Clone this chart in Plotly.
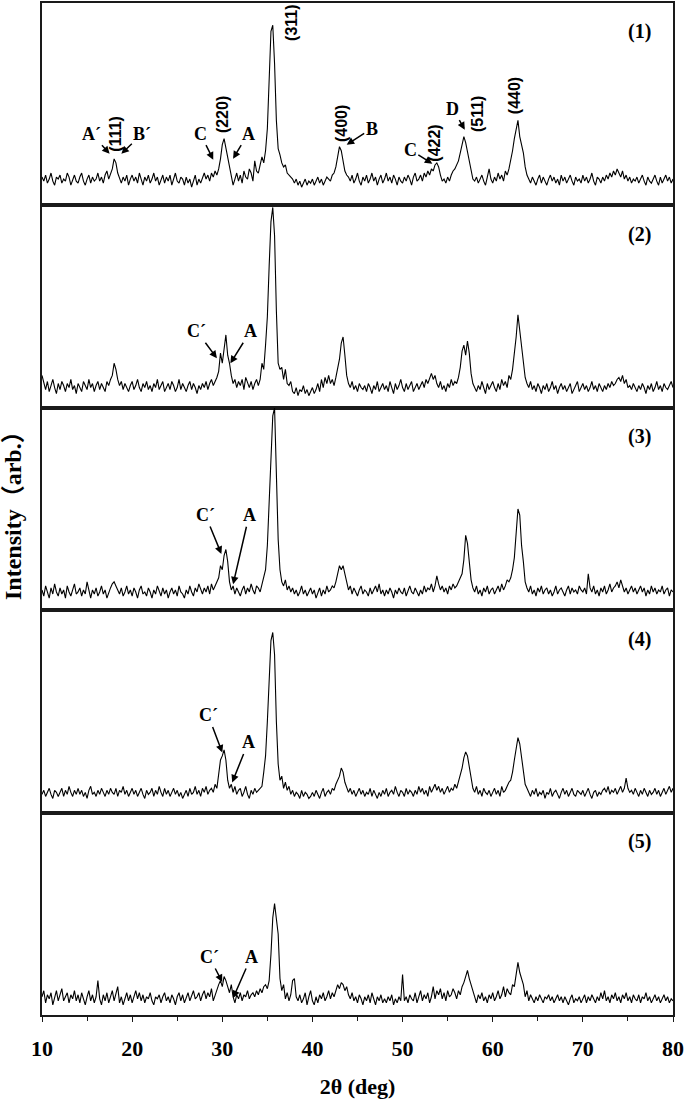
import numpy as np
import plotly.graph_objects as go
from plotly.subplots import make_subplots

# 2-theta grid (deg), 0.2 deg step
two_theta = np.round(np.arange(10, 80.0001, 0.2), 1)

# Intensities (arb., % of panel height)
p1 = [14,12,15,11,13,16,12,10,14,13,
      15,11,13,12,16,14,10,13,15,12,
      11,14,16,12,10,13,15,11,14,12,
      13,16,12,14,11,15,17,13,16,18,
      23,21,16,13,11,14,12,15,10,13,
      15,12,14,11,16,13,10,14,12,15,
      11,13,16,12,14,10,13,15,11,14,
      12,15,10,13,16,12,11,14,13,10,
      14,11,13,9,12,15,10,13,11,14,
      16,13,15,12,16,14,17,15,18,23,
      30,33,28,24,18,14,10,13,16,12,
      15,11,17,14,13,18,16,12,22,17,
      16,20,24,21,27,38,62,86,89,70,
      42,28,25,21,19,20,16,15,14,13,
      11,13,10,12,9,11,13,10,12,11,
      13,10,12,14,11,13,10,12,14,13,
      12,15,16,19,24,29,27,22,17,15,
      14,12,15,11,13,16,12,10,14,12,
      15,11,13,16,12,14,10,13,15,11,
      13,16,12,14,11,15,13,10,14,12,
      11,14,12,15,13,10,14,16,12,13,
      15,12,16,14,17,15,18,17,20,21,
      19,15,12,13,11,14,12,15,17,18,
      20,22,26,30,34,31,26,22,16,13,
      12,14,11,13,15,12,10,14,18,13,
      11,14,12,16,13,15,12,17,15,18,
      22,27,33,38,42,34,30,26,19,15,
      13,11,14,12,10,13,15,11,14,12,
      10,13,15,12,14,11,13,10,15,12,
      14,11,13,15,12,10,14,12,13,11,
      15,12,14,11,13,16,12,10,14,13,
      11,14,12,15,13,16,14,17,15,18,
      16,14,17,13,15,12,14,11,13,12,
      14,11,13,15,12,10,14,12,11,13,
      15,12,10,14,11,13,15,12,14,11,
      13]

p2 = [16,12,9,13,8,11,14,10,7,12,
      9,13,11,8,12,10,14,9,11,7,
      12,10,8,13,11,9,14,10,12,8,
      11,13,9,12,10,8,13,11,14,16,
      22,19,14,11,13,9,12,10,8,11,
      13,9,11,14,10,8,12,10,13,9,
      11,8,12,10,14,9,11,13,8,10,
      12,9,13,11,8,10,14,9,12,10,
      8,11,13,9,12,10,7,11,9,12,
      10,13,9,12,14,11,13,15,18,27,
      22,30,36,26,22,16,12,14,10,13,
      11,14,9,15,12,10,13,9,12,14,
      11,14,22,19,31,45,70,92,99,85,
      48,22,19,20,14,19,12,11,13,8,
      7,10,6,9,8,11,7,9,6,8,
      10,7,9,12,8,14,10,15,12,16,
      12,14,11,15,19,24,32,35,26,16,
      12,10,13,9,11,8,12,10,9,11,
      8,12,10,7,11,9,13,8,10,12,
      9,11,8,13,10,7,12,9,11,14,
      10,8,12,9,11,13,8,10,12,9,
      11,13,10,14,12,15,17,14,16,12,
      10,13,9,11,8,12,10,14,11,13,
      12,15,20,28,31,26,33,27,17,12,
      10,8,11,9,13,10,7,12,9,11,
      13,10,8,12,9,14,11,13,10,16,
      14,19,26,35,46,38,30,22,15,12,
      10,13,9,11,8,12,10,7,11,9,
      12,8,10,13,9,11,7,10,12,9,
      11,8,10,12,7,9,11,13,8,10,
      12,9,11,8,10,13,9,11,8,12,
      10,8,11,9,12,10,13,11,12,14,
      15,13,16,12,14,10,11,9,12,10,
      8,11,9,12,10,7,11,9,12,8,
      10,13,9,11,8,12,10,9,11,13,
      10]

p3 = [10,7,12,9,6,11,8,13,9,7,
      11,8,10,6,12,9,7,10,13,8,
      9,11,7,10,8,14,9,6,10,8,
      11,7,9,12,8,10,6,9,11,13,
      14,12,10,8,11,7,9,12,8,10,
      7,11,9,6,10,12,8,9,7,11,
      9,6,10,8,12,9,7,11,8,10,
      6,9,11,8,10,7,12,9,8,6,
      10,8,12,9,7,11,9,13,10,8,
      11,9,12,8,13,10,12,14,16,22,
      20,27,30,24,14,10,12,8,11,9,
      7,10,12,8,11,9,13,10,8,12,
      11,9,13,17,20,32,55,80,96,100,
      70,35,20,14,12,15,10,12,9,11,
      8,10,7,9,12,8,10,7,9,11,
      8,10,6,9,11,7,10,8,12,9,
      10,12,11,14,18,22,20,22,18,13,
      10,12,8,11,9,7,10,12,8,10,
      9,7,11,8,10,12,9,13,8,10,
      7,10,8,11,9,6,10,8,11,9,
      8,11,7,10,12,9,8,11,9,7,
      10,8,12,9,11,10,13,9,12,17,
      13,10,12,9,11,8,12,10,13,11,
      12,14,16,18,25,37,33,22,15,11,
      9,12,8,10,7,11,9,12,8,10,
      11,8,10,12,9,13,10,12,15,14,
      16,20,26,38,50,47,32,24,14,11,
      9,12,8,10,7,11,9,12,8,10,
      11,8,10,7,9,12,8,10,11,9,
      7,10,12,8,11,9,10,8,12,10,
      9,11,8,18,11,9,12,8,10,7,
      11,9,12,8,10,13,9,11,12,14,
      11,15,12,9,11,8,10,12,9,11,
      8,10,12,9,11,7,10,8,12,9,
      11,8,10,9,12,8,10,11,7,10,
      9]

p4 = [9,11,8,10,12,9,7,11,10,8,
      10,12,8,11,9,13,10,8,11,9,
      12,9,11,8,10,7,11,13,9,10,
      8,11,9,12,10,8,11,9,12,10,
      9,12,8,11,10,13,9,11,8,10,
      12,9,11,8,10,12,9,7,11,9,
      10,12,8,11,9,13,10,8,12,9,
      11,8,10,12,9,11,8,10,7,9,
      11,8,12,9,10,13,9,11,8,12,
      10,13,9,11,12,10,14,12,20,26,
      28,31,26,16,12,14,10,13,9,11,
      12,8,10,13,9,7,11,9,12,10,
      11,12,13,20,28,45,70,85,89,78,
      45,24,16,18,12,15,11,13,9,11,
      8,10,9,7,11,8,10,9,7,8,
      10,8,11,9,7,10,12,8,10,11,
      9,12,11,14,16,18,22,20,15,12,
      10,12,9,11,8,10,12,9,11,8,
      10,9,12,8,11,9,7,10,8,11,
      9,12,8,10,11,9,13,10,8,11,
      10,8,12,9,11,10,8,11,9,13,
      10,12,9,11,8,13,10,12,14,11,
      13,10,12,9,11,13,10,12,11,14,
      12,15,18,22,27,30,28,22,16,12,
      10,13,9,11,8,12,10,9,11,8,
      10,12,9,11,8,13,10,11,13,15,
      16,20,26,32,37,34,27,20,14,12,
      10,8,11,9,12,8,10,9,11,7,
      10,9,12,8,10,11,9,7,10,12,
      9,11,8,10,12,9,8,11,10,9,
      11,8,10,12,9,7,10,11,8,10,
      9,11,12,10,13,9,11,10,12,9,
      11,13,10,12,17,12,10,11,9,12,
      10,8,11,9,12,10,8,11,9,10,
      12,9,11,8,10,12,9,11,13,10,
      12]

p5 = [9,12,6,10,8,11,5,9,12,7,
      10,13,7,9,11,6,10,8,12,7,
      10,6,11,8,5,9,12,7,10,6,
      9,17,8,5,10,7,11,6,9,12,
      7,10,14,6,9,5,8,11,7,10,
      6,9,12,8,11,7,10,6,9,8,
      11,7,5,9,8,10,6,9,11,7,
      9,6,10,8,5,9,11,7,10,6,
      9,11,7,10,12,8,9,11,7,10,
      12,8,11,9,13,7,10,12,15,17,
      14,19,17,14,11,15,9,6,10,8,
      11,7,10,9,12,8,10,11,9,12,
      10,13,11,14,15,13,17,30,48,55,
      48,40,18,12,15,8,11,7,10,17,
      18,9,7,10,6,8,11,5,9,12,
      7,5,9,6,10,8,11,7,9,12,
      8,11,9,12,15,13,16,15,12,14,
      10,8,11,7,9,6,10,8,5,9,
      7,10,6,11,8,5,9,7,10,6,
      8,6,9,7,10,5,8,6,9,7,
      20,7,9,6,10,8,7,11,6,9,
      12,7,10,8,11,6,9,14,8,12,
      10,13,8,11,7,12,9,10,13,11,
      8,12,10,14,16,19,22,18,15,11,
      9,6,10,8,11,7,9,6,10,8,
      11,7,9,12,8,10,14,9,13,11,
      10,15,14,19,26,21,18,15,9,12,
      7,10,8,6,9,7,10,8,6,9,
      8,10,7,9,6,8,10,7,9,6,
      9,7,5,8,10,6,8,7,9,6,
      8,10,6,9,7,10,8,6,9,7,
      11,8,12,7,9,6,10,8,11,7,
      9,6,10,8,11,7,9,6,10,8,
      7,10,6,9,8,11,7,9,6,8,
      10,7,9,6,8,10,7,9,6,8,
      7]

series = [p1, p2, p3, p4, p5]
panel_labels = ["(1)", "(2)", "(3)", "(4)", "(5)"]

# Miller-index labels for panel 1: (text, 2theta, height)
hkl_labels = [("(111)", 18.2, 35.4), ("(220)", 30.1, 44.7), ("(311)", 37.7, 90.0),
              ("(400)", 43.3, 40.3), ("(422)", 53.6, 30.5), ("(511)", 58.3, 45.3),
              ("(440)", 62.5, 54.1)]

# Phase markers: (panel, text, 2theta of arrow head, height of arrow head, dx, dy)
phase_marks = [(1, "A´", 17.5, 25.5, -18, -20), (1, "B´", 18.8, 25.5, 21, -20),
               (1, "C", 29.0, 22.6, -13, -26), (1, "A", 31.2, 23.1, 15, -25),
               (1, "B", 43.8, 30.0, 25, -16), (1, "C", 53.3, 20.6, -22, -14),
               (1, "D", 56.9, 37.4, -12, -21),
               (2, "C´", 29.4, 24.5, -20, -27), (2, "A", 30.9, 22.0, 20, -32),
               (3, "C´", 29.9, 27.8, -16, -39), (3, "A", 31.2, 12.8, 16, -69),
               (4, "C´", 30.0, 29.7, -14, -37), (4, "A", 31.1, 14.9, 16, -40),
               (5, "C´", 30.0, 16.3, -13, -25), (5, "A", 31.2, 8.4, 18, -41)]

x_ticks = [10, 20, 30, 40, 50, 60, 70, 80]

fig = make_subplots(rows=5, cols=1, shared_xaxes=True, vertical_spacing=0)
for i, ys in enumerate(series):
    fig.add_trace(go.Scatter(x=two_theta, y=ys, mode="lines",
                             line=dict(color="black", width=1.1),
                             showlegend=False, hoverinfo="skip"),
                  row=i + 1, col=1)

serif = "Liberation Serif"
sans = "Liberation Sans"
line_col = "#1a1a1a"

for i in range(5):
    r = i + 1
    fig.update_yaxes(range=[0, 100], showline=True, mirror=True, linecolor=line_col,
                     linewidth=1.5, showticklabels=False, ticks="", showgrid=False,
                     zeroline=False, row=r, col=1)
    fig.update_xaxes(range=[10, 80], showline=True, mirror=True, linecolor=line_col,
                     linewidth=1.8, showgrid=False, zeroline=False, row=r, col=1)
    if r < 5:
        fig.update_xaxes(showticklabels=False, ticks="", row=r, col=1)

fig.update_xaxes(tickvals=x_ticks, ticks="outside", ticklen=5, tickwidth=1.2,
                 tickcolor=line_col, ticklabelstandoff=8, automargin=False,
                 minor=dict(dtick=5, tick0=10, ticks="outside", ticklen=4, tickwidth=1.2,
                            tickcolor=line_col),
                 tickfont=dict(family=serif, size=22, color="black", weight="bold"),
                 title=dict(text="2θ (deg)", standoff=18,
                            font=dict(family=serif, size=22, color="black", weight="bold")),
                 row=5, col=1)

annotations = []
for i, lab in enumerate(panel_labels):
    sfx = "" if i == 0 else str(i + 1)
    annotations.append(dict(x=76.3, y=85.7, xref="x" + sfx, yref="y" + sfx, text=lab,
                            showarrow=False,
                            font=dict(family=serif, size=20, color="black", weight="bold")))

for txt, xv, yv in hkl_labels:
    annotations.append(dict(x=xv, y=yv, xref="x", yref="y", text=txt, textangle=-90,
                            showarrow=False,
                            font=dict(family=sans, size=16, color="black", weight="bold")))

for pnl, txt, xv, yv, dx, dy in phase_marks:
    sfx = "" if pnl == 1 else str(pnl)
    annotations.append(dict(x=xv, y=yv, xref="x" + sfx, yref="y" + sfx, text=txt,
                            showarrow=True, ax=dx, ay=dy, arrowhead=2, arrowsize=1,
                            arrowwidth=1.5, arrowcolor="black", standoff=0,
                            font=dict(family=serif, size=18, color="black", weight="bold")))

annotations.append(dict(x=-0.046, y=0.5, xref="paper", yref="paper",
                        xanchor="center", yanchor="middle",
                        text="Intensity（arb.）", textangle=-90, showarrow=False,
                        font=dict(family=serif + ", Noto Sans CJK SC", size=24,
                                  color="black", weight="bold")))

fig.update_layout(width=685, height=1099, margin=dict(l=42, r=12, t=1, b=84),
                  plot_bgcolor="white", paper_bgcolor="white",
                  annotations=annotations, showlegend=False)

fig.write_html("out.html", config={"displayModeBar": False},
               post_script="document.body.style.margin='0px';"
                           "document.body.style.overflow='hidden';")
